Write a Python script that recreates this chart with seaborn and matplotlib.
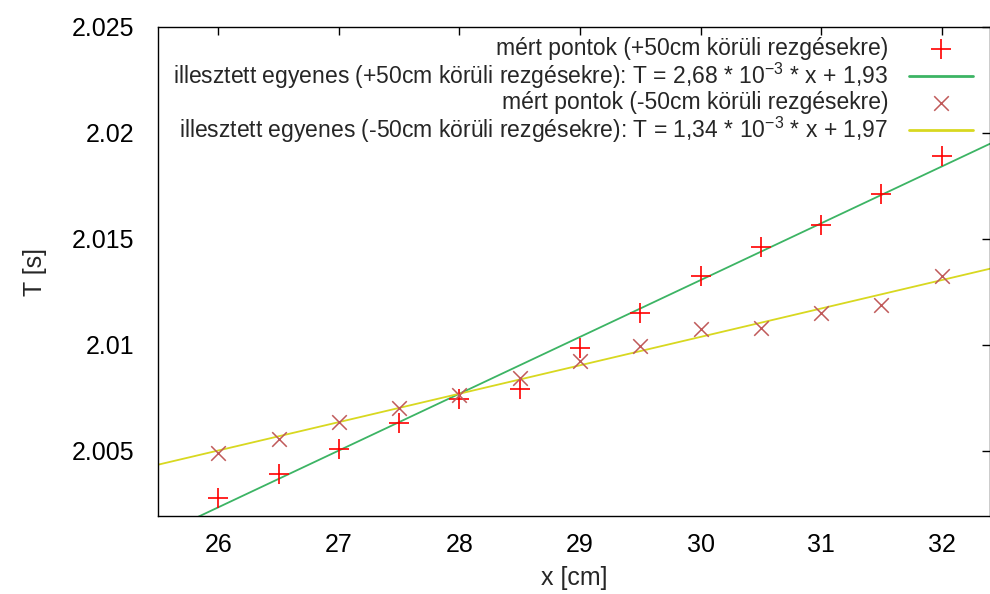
import numpy as np
import pandas as pd
import seaborn as sns
import matplotlib.pyplot as plt

# DATA
x_cm = [26, 26.5, 27, 27.5, 28, 28.5, 29, 29.5, 30, 30.5, 31, 31.5, 32]
T_plus = [2.0028, 2.0039, 2.0051, 2.0063, 2.00745, 2.0079, 2.00985,
          2.0115, 2.01325, 2.0146, 2.01566, 2.0171, 2.0189]
T_minus = [2.0049, 2.00555, 2.00635, 2.00703, 2.00764, 2.00844, 2.00925,
           2.00995, 2.01075, 2.0108, 2.01151, 2.0119, 2.01325]

# fitted lines: T = a*x + b
fit_a = [2.68e-3, 1.34e-3]
fit_b = [1.93266, 1.97018]
x_range = [25.5, 32.4]

ytick_vals = [2.005, 2.01, 2.015, 2.02, 2.025]
ytick_labels = ["2.005", "2.01", "2.015", "2.02", "2.025"]
xtick_vals = [26, 27, 28, 29, 30, 31, 32]

labels = [
    "mért pontok (+50cm körüli rezgésekre)",
    "illesztett egyenes (+50cm körüli rezgésekre): T = 2,68 * 10$^{-3}$ * x + 1,93",
    "mért pontok (-50cm körüli rezgésekre)",
    "illesztett egyenes (-50cm körüli rezgésekre): T = 1,34 * 10$^{-3}$ * x + 1,97",
]

sns.set_style("white")
plt.rcParams["font.family"] = ["Liberation Sans", "DejaVu Sans"]
plt.rcParams["mathtext.fontset"] = "custom"
plt.rcParams["mathtext.rm"] = "Liberation Sans"
plt.rcParams["mathtext.it"] = "Liberation Sans"

df_p = pd.DataFrame({"x": x_cm, "T": T_plus})
df_m = pd.DataFrame({"x": x_cm, "T": T_minus})
xs = np.array(x_range)
df_fp = pd.DataFrame({"x": xs, "T": fit_a[0] * xs + fit_b[0]})
df_fm = pd.DataFrame({"x": xs, "T": fit_a[1] * xs + fit_b[1]})

fig = plt.figure(figsize=(9.9, 5.94), dpi=100)
ax = fig.add_axes([158 / 990, 1 - 516 / 594, 1 - 158 / 990, (516 - 27) / 594])

sns.scatterplot(data=df_p, x="x", y="T", marker="+", color="#ff0000", s=200,
                linewidth=1.2, ax=ax, label=labels[0], zorder=3)
sns.lineplot(data=df_fp, x="x", y="T", color="#3cb464", linewidth=1.3,
             ax=ax, label=labels[1])
sns.scatterplot(data=df_m, x="x", y="T", marker="x", color="#c05a5a", s=110,
                linewidth=1.1, ax=ax, label=labels[2], zorder=3)
sns.lineplot(data=df_fm, x="x", y="T", color="#d8d820", linewidth=1.3,
             ax=ax, label=labels[3])

ax.set_xlim(25.5, 32.4)
ax.set_ylim(2.00193, 2.025)
ax.set_xticks(xtick_vals)
ax.set_yticks(ytick_vals)
ax.set_yticklabels(ytick_labels)
ax.tick_params(direction="in", length=6, width=1, labelsize=18, pad=17,
               top=True, right=True, colors="black")
ax.tick_params(axis="x", pad=12)
for s in ax.spines.values():
    s.set_color("black")
    s.set_linewidth(1)

ax.set_xlabel("x [cm]", fontsize=18, labelpad=7)
ax.set_ylabel("T [s]", fontsize=18, labelpad=18)

leg = ax.legend(loc="upper right", bbox_to_anchor=(0.999, 1.012), frameon=False,
                markerfirst=False, fontsize=16.5, handlelength=2.8,
                handletextpad=0.9, labelspacing=0.02, borderaxespad=0.3)
for ln in leg.get_lines():
    ln.set_linewidth(2)

fig.savefig("out.png", dpi=100)
